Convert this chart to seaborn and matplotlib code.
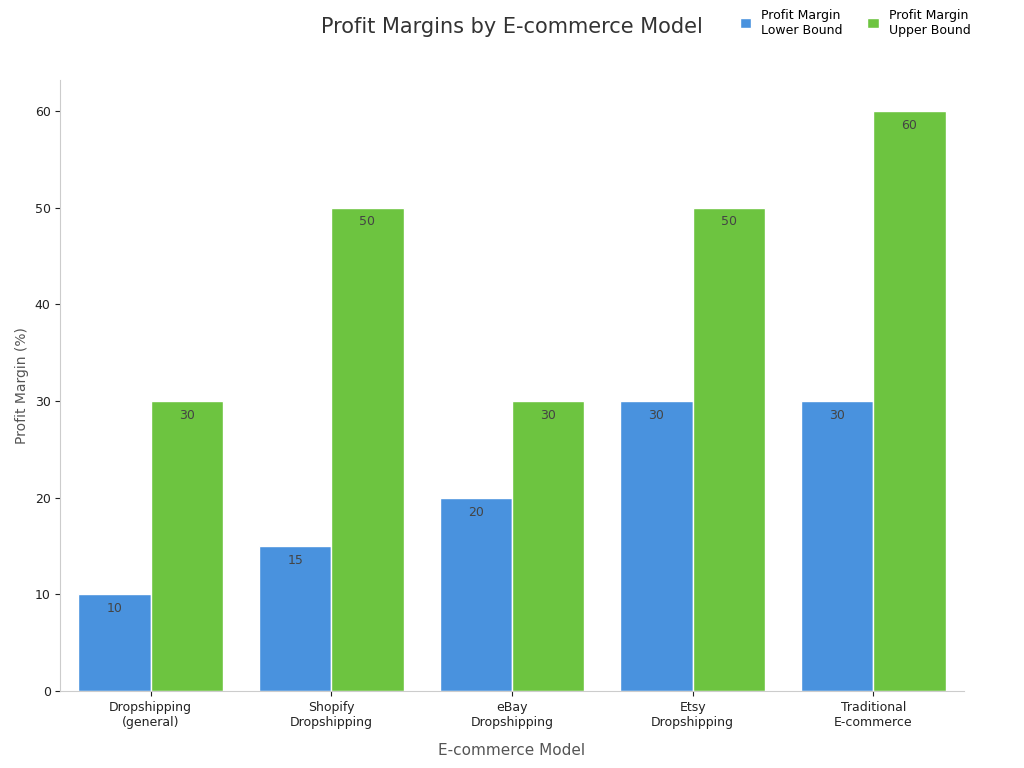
import matplotlib
matplotlib.use("Agg")
import matplotlib.pyplot as plt
import seaborn as sns
import pandas as pd

categories = ["Dropshipping\n(general)", "Shopify\nDropshipping", "eBay\nDropshipping", "Etsy\nDropshipping", "Traditional\nE-commerce"]
lower = [10, 15, 20, 30, 30]
upper = [30, 50, 30, 50, 60]
series = ["Profit Margin\nLower Bound", "Profit Margin\nUpper Bound"]

df = pd.DataFrame({
    "Model": categories * 2,
    "Value": lower + upper,
    "Series": [series[0]] * 5 + [series[1]] * 5,
})

fig = plt.figure(figsize=(10.24, 7.68), dpi=100)
ax = fig.add_axes([0.059, 0.1, 0.882, 0.796])
sns.barplot(data=df, x="Model", y="Value", hue="Series", palette=["#3092F7", "#66DA2A"],
            edgecolor="white", linewidth=1, width=0.8, ax=ax)
for c in ax.containers:
    ax.bar_label(c, padding=-15, color="#444444", fontsize=9)
ax.set_ylim(0, 63.2)
ax.set_xlim(-0.5, 4.5)
ax.set_yticks(range(0, 61, 10))
ax.set_xlabel("E-commerce Model", fontsize=11, color="#555555", labelpad=10)
ax.set_ylabel("Profit Margin (%)", fontsize=10, color="#555555")
ax.tick_params(labelsize=9, colors="#222222")
for s in ["top", "right"]:
    ax.spines[s].set_visible(False)
for s in ["left", "bottom"]:
    ax.spines[s].set_color("#cccccc")
fig.text(0.5, 0.957, "Profit Margins by E-commerce Model", ha="center", fontsize=15, color="#333333")
ax.legend(loc="upper right", bbox_to_anchor=(1.02, 1.135), ncol=2, frameon=False, fontsize=9,
          handlelength=0.9, handleheight=0.9, columnspacing=2)
fig.savefig("out.png", dpi=100)
